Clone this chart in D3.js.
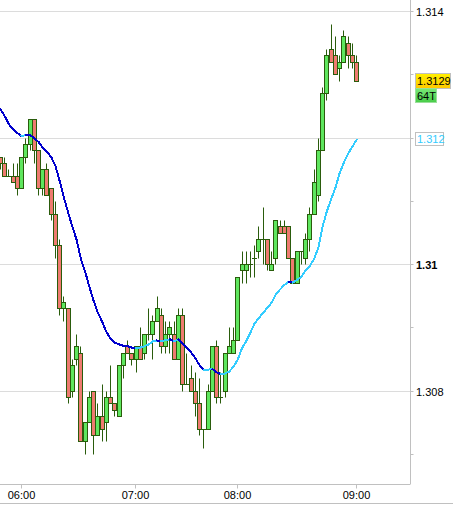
<!DOCTYPE html>
<html>
<head>
<meta charset="utf-8">
<script src="https://cdn.jsdelivr.net/npm/d3@7"></script>
<style>
  html, body { margin: 0; padding: 0; background: #fff; }
  svg { display: block; }
  text { font-family: "Liberation Sans", Arial, sans-serif; font-size: 11px; }
</style>
</head>
<body>
<svg id="chart" width="453" height="507"></svg>
<script>
const opens = [1.3117,1.3117,1.3116,1.3114,1.3114,1.3114,1.3112,1.3117,1.3119,1.3123,1.3118,1.3112,1.3115,1.3112,1.3108,1.3103,1.3093,1.3093,1.3080,1.3085,1.3086,1.3072,1.3075,1.3080,1.3073,1.3076,1.3075,1.3079,1.3078,1.3076,1.3084,1.3087,1.3086,1.3085,1.3087,1.3086,1.3089,1.3089,1.3091,1.3092,1.3087,1.3089,1.3089,1.3085,1.3092,1.3081,1.3082,1.3080,1.3078,1.3074,1.3074,1.3080,1.3087,1.3079,1.3080,1.3086,1.3086,1.3088,1.3099,1.3099,1.3100,1.3101,1.3102,1.3104,1.3104,1.3099,1.3101,1.3106,1.3106,1.3106,1.3101,1.3097,1.3102,1.3101,1.3104,1.3108,1.3111,1.3118,1.3127,1.3134,1.3133,1.3131,1.3132,1.3135,1.3133,1.3132];
const highs = [1.3119,1.3117,1.3117,1.3115,1.3116,1.3116,1.3117,1.3120,1.3123,1.3123,1.3118,1.3115,1.3116,1.3112,1.3110,1.3104,1.3095,1.3093,1.3085,1.3089,1.3087,1.3075,1.3080,1.3080,1.3078,1.3081,1.3080,1.3084,1.3078,1.3084,1.3086,1.3088,1.3086,1.3087,1.3090,1.3089,1.3093,1.3092,1.3095,1.3093,1.3091,1.3091,1.3091,1.3093,1.3093,1.3086,1.3084,1.3083,1.3082,1.3074,1.3081,1.3087,1.3088,1.3083,1.3086,1.3090,1.3090,1.3098,1.3102,1.3102,1.3102,1.3103,1.3106,1.3109,1.3104,1.3102,1.3107,1.3107,1.3107,1.3106,1.3101,1.3102,1.3102,1.3105,1.3109,1.3115,1.3120,1.3128,1.3134,1.3138,1.3136,1.3133,1.3137,1.3136,1.3135,1.3133];
const lows = [1.3117,1.3115,1.3114,1.3114,1.3113,1.3111,1.3112,1.3116,1.3118,1.3116,1.3111,1.3111,1.3111,1.3107,1.3101,1.3092,1.3091,1.3078,1.3079,1.3084,1.3072,1.3070,1.3075,1.3070,1.3073,1.3072,1.3072,1.3078,1.3076,1.3076,1.3082,1.3086,1.3084,1.3083,1.3085,1.3085,1.3088,1.3085,1.3091,1.3086,1.3086,1.3086,1.3085,1.3085,1.3080,1.3081,1.3080,1.3076,1.3073,1.3071,1.3074,1.3080,1.3078,1.3078,1.3079,1.3086,1.3086,1.3088,1.3097,1.3097,1.3098,1.3098,1.3101,1.3100,1.3099,1.3099,1.3100,1.3105,1.3105,1.3101,1.3097,1.3097,1.3100,1.3100,1.3102,1.3108,1.3110,1.3118,1.3126,1.3132,1.3130,1.3129,1.3132,1.3131,1.3131,1.3129];
const closes = [1.3119,1.3116,1.3114,1.3114,1.3113,1.3112,1.3117,1.3119,1.3123,1.3118,1.3112,1.3115,1.3111,1.3108,1.3103,1.3093,1.3094,1.3079,1.3084,1.3087,1.3072,1.3075,1.3079,1.3073,1.3076,1.3074,1.3079,1.3078,1.3077,1.3084,1.3086,1.3086,1.3085,1.3087,1.3085,1.3089,1.3089,1.3091,1.3093,1.3087,1.3089,1.3090,1.3085,1.3092,1.3081,1.3081,1.3080,1.3078,1.3074,1.3074,1.3080,1.3087,1.3079,1.3079,1.3086,1.3087,1.3088,1.3098,1.3100,1.3100,1.3100,1.3101,1.3104,1.3104,1.3100,1.3100,1.3107,1.3105,1.3105,1.3101,1.3097,1.3102,1.3102,1.3104,1.3108,1.3113,1.3118,1.3127,1.3133,1.3132,1.3130,1.3132,1.3136,1.3133,1.3132,1.3129];
const avg = [1.31254,1.31246,1.31235,1.31222,1.31214,1.31208,1.31203,1.31205,1.31205,1.31200,1.31194,1.31185,1.31178,1.31170,1.31156,1.31132,1.31106,1.31082,1.31060,1.31039,1.31009,1.30989,1.30965,1.30943,1.30924,1.30910,1.30894,1.30883,1.30877,1.30874,1.30872,1.30871,1.30869,1.30868,1.30869,1.30871,1.30874,1.30879,1.30880,1.30879,1.30881,1.30882,1.30879,1.30882,1.30875,1.30869,1.30861,1.30852,1.30841,1.30833,1.30834,1.30835,1.30830,1.30827,1.30828,1.30831,1.30839,1.30850,1.30868,1.30879,1.30893,1.30907,1.30916,1.30924,1.30932,1.30940,1.30953,1.30961,1.30968,1.30973,1.30972,1.30976,1.30981,1.30991,1.30998,1.31009,1.31027,1.31060,1.31084,1.31103,1.31121,1.31144,1.31161,1.31175,1.31186,1.31197];

const priceTicks = [1.314, 1.312, 1.31, 1.308];
const minorTicks = [1.313, 1.311, 1.309, 1.307];
// ticks fall between bars, so these are fractional bar numbers
const timeIdx = [5.87, 32.76, 56.82, 84.88];
const timeLabels = ["06:00", "07:00", "08:00", "09:00"];
const lastPrice = "1.3129";
const lastVolume = "64T";
const lastAvg = "1.312";

const svg = d3.select("#chart");
const x = d3.scaleLinear().domain([0, 85]).range([-3.9, 356.5]);
const y = d3.scaleLinear().domain([1.307, 1.314]).range([454.5, 11.5]);
const px = i => Math.floor(x(i)) + 0.5;
const py = v => Math.round(y(v) - 0.5) + 0.5;

const defs = svg.append("defs");
function grad(id, top, bottom) {
  const g = defs.append("linearGradient").attr("id", id).attr("x1", 0).attr("y1", 0).attr("x2", 0).attr("y2", 1);
  g.append("stop").attr("offset", 0).attr("stop-color", top);
  g.append("stop").attr("offset", 1).attr("stop-color", bottom);
}
grad("yellowFill", "#fff000", "#ffc800");
grad("greenFill", "#78e878", "#48cc48");

// grid
svg.append("g").selectAll("line").data(priceTicks).join("line")
  .attr("x1", 0).attr("x2", 410)
  .attr("y1", d => py(d)).attr("y2", d => py(d))
  .attr("stroke", "#dcdcdc");

// candles
const idx = d3.range(opens.length);
const green = "#2a5c0c";
const candles = svg.append("g");
candles.selectAll("line.wick").data(idx).join("line")
  .attr("class", "wick")
  .attr("x1", px).attr("x2", px)
  .attr("y1", i => py(highs[i])).attr("y2", i => py(lows[i]))
  .attr("stroke", green);

candles.selectAll("rect").data(idx.filter(i => opens[i] !== closes[i])).join("rect")
  .attr("x", i => px(i) - 2)
  .attr("width", 4)
  .attr("y", i => py(Math.max(opens[i], closes[i])))
  .attr("height", i => py(Math.min(opens[i], closes[i])) - py(Math.max(opens[i], closes[i])))
  .attr("fill", i => closes[i] > opens[i] ? "#5ee65e" : "#ee7b70")
  .attr("stroke", green);

candles.selectAll("line.doji").data(idx.filter(i => opens[i] === closes[i])).join("line")
  .attr("class", "doji")
  .attr("x1", i => px(i) - 2.5).attr("x2", i => px(i) + 2.5)
  .attr("y1", i => py(opens[i])).attr("y2", i => py(opens[i]))
  .attr("stroke", green);

// moving average, dark when falling, light when rising
const maLine = d3.line().x(i => x(i)).y(i => y(avg[i]));
svg.append("g").selectAll("path").data(idx.slice(1)).join("path")
  .attr("d", i => maLine([i - 1, i]))
  .attr("fill", "none")
  .attr("stroke", i => avg[i] > avg[i - 1] ? "#33ccff" : "#0000cc")
  .attr("stroke-width", 2)
  .attr("stroke-linecap", "square")
  .attr("shape-rendering", "crispEdges");

// right axis
const axisR = svg.append("g").attr("transform", "translate(410.5,0)")
  .call(d3.axisRight(y).tickValues(priceTicks.concat(minorTicks)).tickSize(3).tickFormat(""));
axisR.selectAll(".domain").attr("d", "M0,0V484");
axisR.selectAll("line").attr("stroke", "#c0c0c0").each(function(d) {
  d3.select(this).attr("y1", py(d)).attr("y2", py(d));
});
axisR.selectAll(".tick").attr("transform", null);
axisR.selectAll(".domain").attr("stroke", "#c0c0c0");

svg.append("g").selectAll("text").data(priceTicks.filter(d => d !== 1.312)).join("text")
  .attr("x", 416).attr("y", d => py(d) + 4)
  .attr("font-weight", d => d === 1.31 ? "bold" : "normal")
  .attr("fill", "#000")
  .text(d => d);

// bottom axis
const axisB = svg.append("g").attr("transform", "translate(0,484.5)")
  .call(d3.axisBottom(x).tickValues(timeIdx).tickSize(4).tickPadding(3).tickFormat((d, i) => timeLabels[i]));
axisB.selectAll(".domain").attr("d", "M0,0H410.5").attr("stroke", "#c0c0c0");
axisB.selectAll("line").attr("stroke", "#c0c0c0");
axisB.selectAll("text").attr("font-family", null).attr("font-size", null).attr("fill", "#000");

svg.append("line").attr("x1", 0).attr("x2", 453).attr("y1", 503.5).attr("y2", 503.5).attr("stroke", "#c0c0c0");

// last value labels
svg.append("rect").attr("x", 415.5).attr("y", 73.5).attr("width", 35).attr("height", 15)
  .attr("fill", "url(#yellowFill)").attr("stroke", "#c0c0c0");
svg.append("text").attr("x", 417).attr("y", 85).attr("fill", "#000").text(lastPrice);
svg.append("rect").attr("x", 415.5).attr("y", 88.5).attr("width", 21).attr("height", 14)
  .attr("fill", "url(#greenFill)").attr("stroke", "#9adf9a");
svg.append("text").attr("x", 417).attr("y", 100).attr("fill", "#000").text(lastVolume);
svg.append("rect").attr("x", 415.5).attr("y", 132.5).attr("width", 28).attr("height", 13)
  .attr("fill", "#fff").attr("stroke", "#c0c0c0");
svg.append("text").attr("x", 417).attr("y", 143).attr("fill", "#33ccff").text(lastAvg);
</script>
</body>
</html>
